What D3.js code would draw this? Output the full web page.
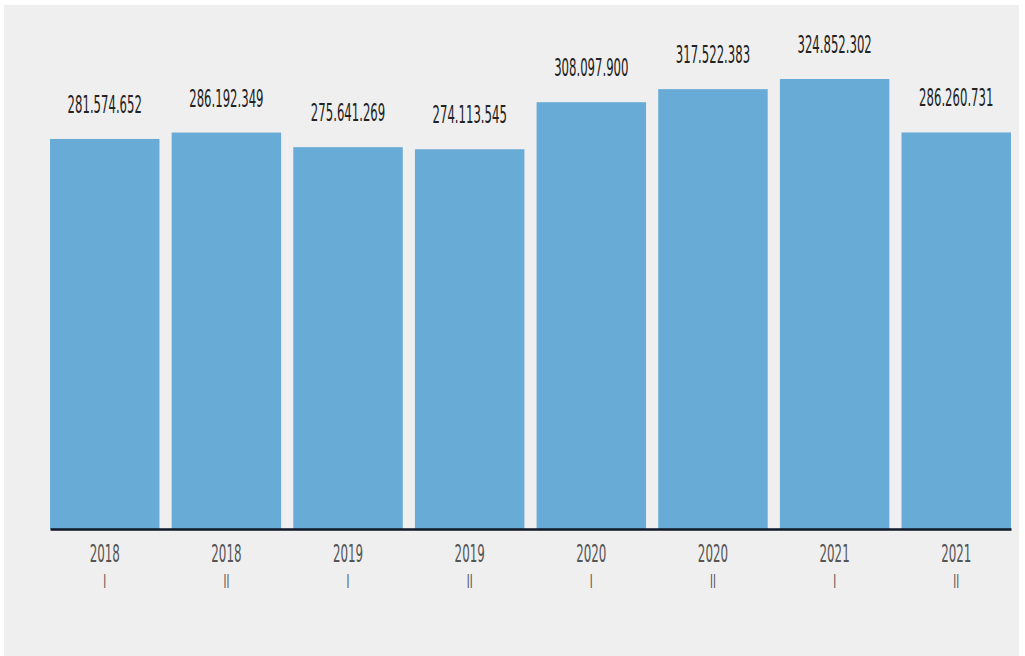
<!DOCTYPE html>
<html><head><meta charset="utf-8">
<script src="https://cdn.jsdelivr.net/npm/d3@7"></script>
<style>
html,body{margin:0;padding:0;background:#fff;}
svg{display:block;}
</style></head>
<body>
<svg id="chart" width="1025" height="656"></svg>
<script>
const years = ["2018","2018","2019","2019","2020","2020","2021","2021"];
const halves = ["I","II","I","II","I","II","I","II"];
const values = [281574652, 286192349, 275641269, 274113545, 308097900, 317522383, 324852302, 286260731];
const labels = ["281.574.652","286.192.349","275.641.269","274.113.545","308.097.900","317.522.383","324.852.302","286.260.731"];

const svg = d3.select("#chart");
svg.append("rect").attr("x",4).attr("y",5).attr("width",1015).attr("height",651).attr("fill","#efefef");

const keys = values.map((d,i)=>i);
const x = d3.scaleBand().domain(keys).range([50,1011]).paddingInner(0.1).paddingOuter(0);
const y = d3.scaleLinear().domain([0, d3.max(values)]).range([529, 79]);

svg.append("g").selectAll("rect").data(values).join("rect")
  .attr("x",(d,i)=>x(i)).attr("width",x.bandwidth())
  .attr("y",d=>y(d)).attr("height",d=>y(0)-y(d))
  .attr("fill","#68abd6");

const fontFam = "'Liberation Sans Narrow','DejaVu Sans Condensed','Liberation Sans',sans-serif";
svg.append("g").selectAll("text").data(values).join("text")
  .attr("transform",(d,i)=>`translate(${x(i)+x.bandwidth()/2},${y(d)-26}) scale(0.52,1)`)
  .attr("text-anchor","middle")
  .attr("font-family",fontFam).attr("font-size",25)
  .attr("fill","#222")
  .text((d,i)=>labels[i]);

const axis = d3.axisBottom(x).tickSize(0).tickFormat(()=> "");
const ag = svg.append("g").attr("transform","translate(0,529)").call(axis);
ag.select(".domain").attr("stroke","#111827").attr("stroke-width",2.5);

const tg = svg.append("g").selectAll("g").data(keys).join("g")
  .attr("transform",i=>`translate(${x(i)+x.bandwidth()/2},0)`);
tg.append("text").attr("transform","translate(0,562) scale(0.55,1)")
  .attr("text-anchor","middle").attr("font-family",fontFam).attr("font-size",24)
  .attr("fill","#555").text(i=>years[i]);
tg.append("text").attr("transform","translate(0,588) scale(0.55,1)")
  .attr("text-anchor","middle").attr("font-family",fontFam).attr("font-size",20)
  .attr("fill","#555").text(i=>halves[i]);
</script>
</body></html>
